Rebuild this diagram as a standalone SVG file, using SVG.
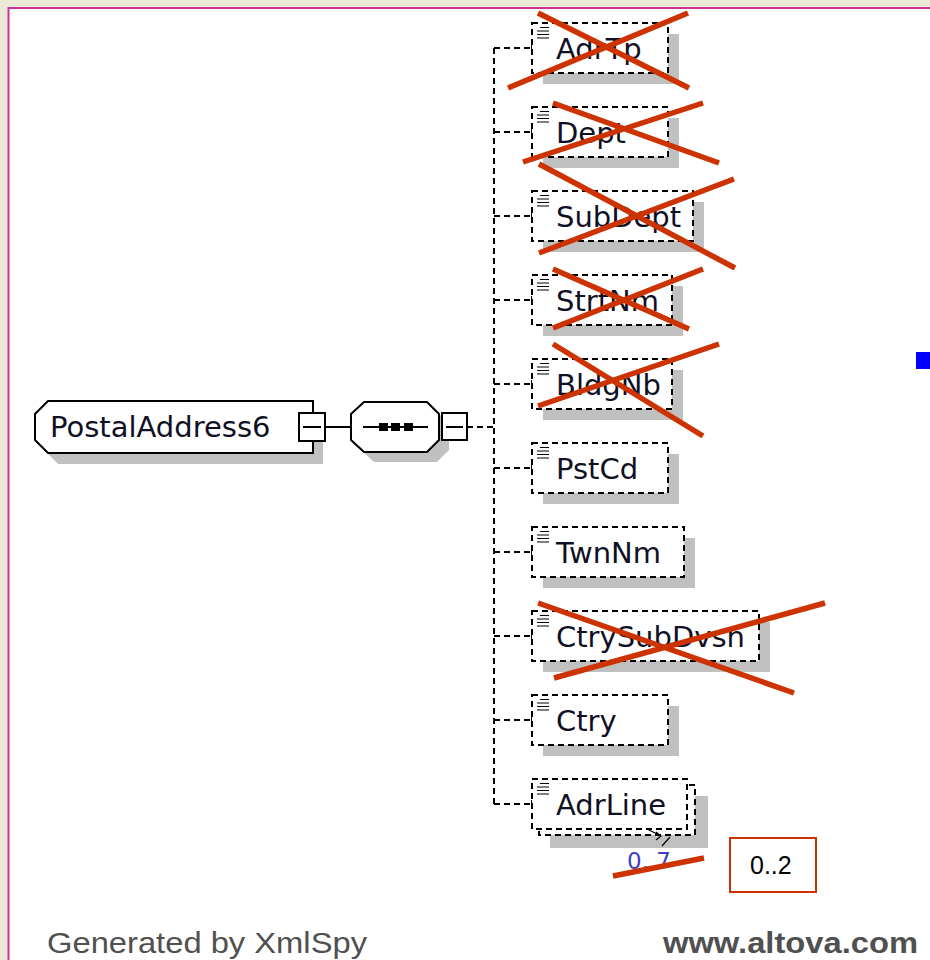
<svg xmlns="http://www.w3.org/2000/svg" width="930" height="960" viewBox="0 0 930 960">
<style>
.bg{fill:#ECE9D8}
.frame{fill:#FFFFFF;stroke:#CC3399;stroke-width:2}
.shadow{fill:#C0C0C0}
.ebox{fill:#FFFFFF;stroke:#000000;stroke-width:2;stroke-dasharray:6,4}
.solidbox{fill:#FFFFFF;stroke:#000000;stroke-width:2}
.name{font-family:"DejaVu Sans",Verdana,sans-serif;font-size:29px;fill:#101024}
.icon{stroke:#000000;stroke-width:1.2}
.conn{fill:none;stroke:#000000;stroke-width:2;stroke-dasharray:6,4}
.solid{fill:none;stroke:#000000;stroke-width:2}
.cross{stroke:#CC3300;stroke-width:5.5;fill:none}
.card{font-family:"DejaVu Sans",Verdana,sans-serif;font-size:23px;fill:#4040C0}
.foot{font-family:"Liberation Sans",Arial,sans-serif;font-size:30px;fill:#505050}
</style>
<defs>
<g id="ico"><path d="M8 4.5H17M5 8H17M5 11.5H17M5 15H17" class="icon"/></g>
</defs>
<rect class="bg" x="0" y="0" width="930" height="960"/>
<rect class="frame" x="8.5" y="8" width="940" height="970"/>
<rect x="916" y="352" width="14" height="17" fill="#0000FF"/>

<g id="connectors">
<path class="solid" d="M325 427H351"/>
<path class="conn" d="M467 427H494"/>
<path class="conn" d="M494 48V804"/>
<path class="conn" d="M494 48H532M494 132H532M494 216H532M494 300H532M494 384H532M494 468H532M494 552H532M494 636H532M494 720H532M494 804H532"/>
<path class="solid" d="M532 44V52M532 128V136M532 212V220M532 296V304M532 380V388M532 464V472M532 548V556M532 632V640M532 716V724M532 800V808"/>
</g>

<g id="PostalAddress6">
<path class="shadow" d="M58 412H323V464H58L45 451V425Z"/>
<path class="solidbox" d="M48 401H313V453H48L35 440V414Z"/>
<text class="name" x="50" y="437">PostalAddress6</text>
<rect class="solidbox" x="299" y="413" width="26" height="28"/>
<path class="solid" d="M303 427H321"/>
</g>

<g id="sequence">
<path class="shadow" d="M374 412H437L449 424V450L437 462H374L361 450V424Z"/>
<path class="solidbox" d="M364 402H427L439 414V440L427 452H364L351 440V414Z"/>
<path class="solid" d="M363 427H428"/>
<rect x="379" y="423" width="9" height="8" fill="#000"/>
<rect x="391" y="423" width="9" height="8" fill="#000"/>
<rect x="404" y="423" width="9" height="8" fill="#000"/>
<rect class="solidbox" x="442" y="413" width="25" height="27"/>
<path class="solid" d="M446 427H463"/>
</g>

<g id="AdrTp">
<rect class="shadow" x="543" y="34" width="136" height="50"/>
<rect class="ebox" x="532" y="23" width="136" height="50"/>
<use href="#ico" x="532" y="23"/>
<text class="name" x="556" y="59">AdrTp</text>
</g>
<g id="Dept">
<rect class="shadow" x="543" y="118" width="136" height="50"/>
<rect class="ebox" x="532" y="107" width="136" height="50"/>
<use href="#ico" x="532" y="107"/>
<text class="name" x="556" y="143">Dept</text>
</g>
<g id="SubDept">
<rect class="shadow" x="543" y="202" width="161" height="50"/>
<rect class="ebox" x="532" y="191" width="161" height="50"/>
<use href="#ico" x="532" y="191"/>
<text class="name" x="556" y="227">SubDept</text>
</g>
<g id="StrtNm">
<rect class="shadow" x="543" y="286" width="140" height="50"/>
<rect class="ebox" x="532" y="275" width="140" height="50"/>
<use href="#ico" x="532" y="275"/>
<text class="name" x="556" y="311">StrtNm</text>
</g>
<g id="BldgNb">
<rect class="shadow" x="543" y="370" width="140" height="50"/>
<rect class="ebox" x="532" y="359" width="140" height="50"/>
<use href="#ico" x="532" y="359"/>
<text class="name" x="556" y="395">BldgNb</text>
</g>
<g id="PstCd">
<rect class="shadow" x="543" y="454" width="136" height="50"/>
<rect class="ebox" x="532" y="443" width="136" height="50"/>
<use href="#ico" x="532" y="443"/>
<text class="name" x="556" y="479">PstCd</text>
</g>
<g id="TwnNm">
<rect class="shadow" x="543" y="538" width="152" height="50"/>
<rect class="ebox" x="532" y="527" width="152" height="50"/>
<use href="#ico" x="532" y="527"/>
<text class="name" x="556" y="563">TwnNm</text>
</g>
<g id="CtrySubDvsn">
<rect class="shadow" x="543" y="622" width="227" height="50"/>
<rect class="ebox" x="532" y="611" width="227" height="50"/>
<use href="#ico" x="532" y="611"/>
<text class="name" x="556" y="647">CtrySubDvsn</text>
</g>
<g id="Ctry">
<rect class="shadow" x="543" y="706" width="136" height="50"/>
<rect class="ebox" x="532" y="695" width="136" height="50"/>
<use href="#ico" x="532" y="695"/>
<text class="name" x="556" y="731">Ctry</text>
</g>
<g id="AdrLine">
<rect class="shadow" x="550" y="796" width="158" height="52"/>
<rect class="ebox" x="539" y="785" width="156" height="50"/>
<rect class="ebox" x="532" y="779" width="155" height="50"/>
<use href="#ico" x="532" y="779"/>
<text class="name" x="556" y="815">AdrLine</text>
<path d="M647 829L659 835M656 832L661 836L656 840M662 846L670 837" fill="none" stroke="#000" stroke-width="1.2"/>
<text class="card" x="627" y="869">0..7</text>
</g>

<g id="strikes">
<path class="cross" d="M538 13L689 88M508 88L688 13"/>
<path class="cross" d="M553 103L719 163M523 162L703 103"/>
<path class="cross" d="M539 164L735 268M539 253L734 179"/>
<path class="cross" d="M553 269L689 329M553 328L703 269"/>
<path class="cross" d="M553 344L703 436M538 406L719 344"/>
<path class="cross" d="M538 603L794 693M554 678L825 603"/>
<path class="cross" d="M613 876L704 858"/>
</g>

<g id="note">
<rect x="730" y="838" width="86" height="54" fill="#FFFFFF" stroke="#CC3300" stroke-width="2"/>
<text x="750" y="874" font-family="Liberation Sans, Arial, sans-serif" font-size="25" fill="#000">0..2</text>
</g>

<text class="foot" x="47" y="953" textLength="320" lengthAdjust="spacingAndGlyphs">Generated by XmlSpy</text>
<text class="foot" x="663" y="953" font-weight="bold" textLength="255" lengthAdjust="spacingAndGlyphs">www.altova.com</text>
</svg>
